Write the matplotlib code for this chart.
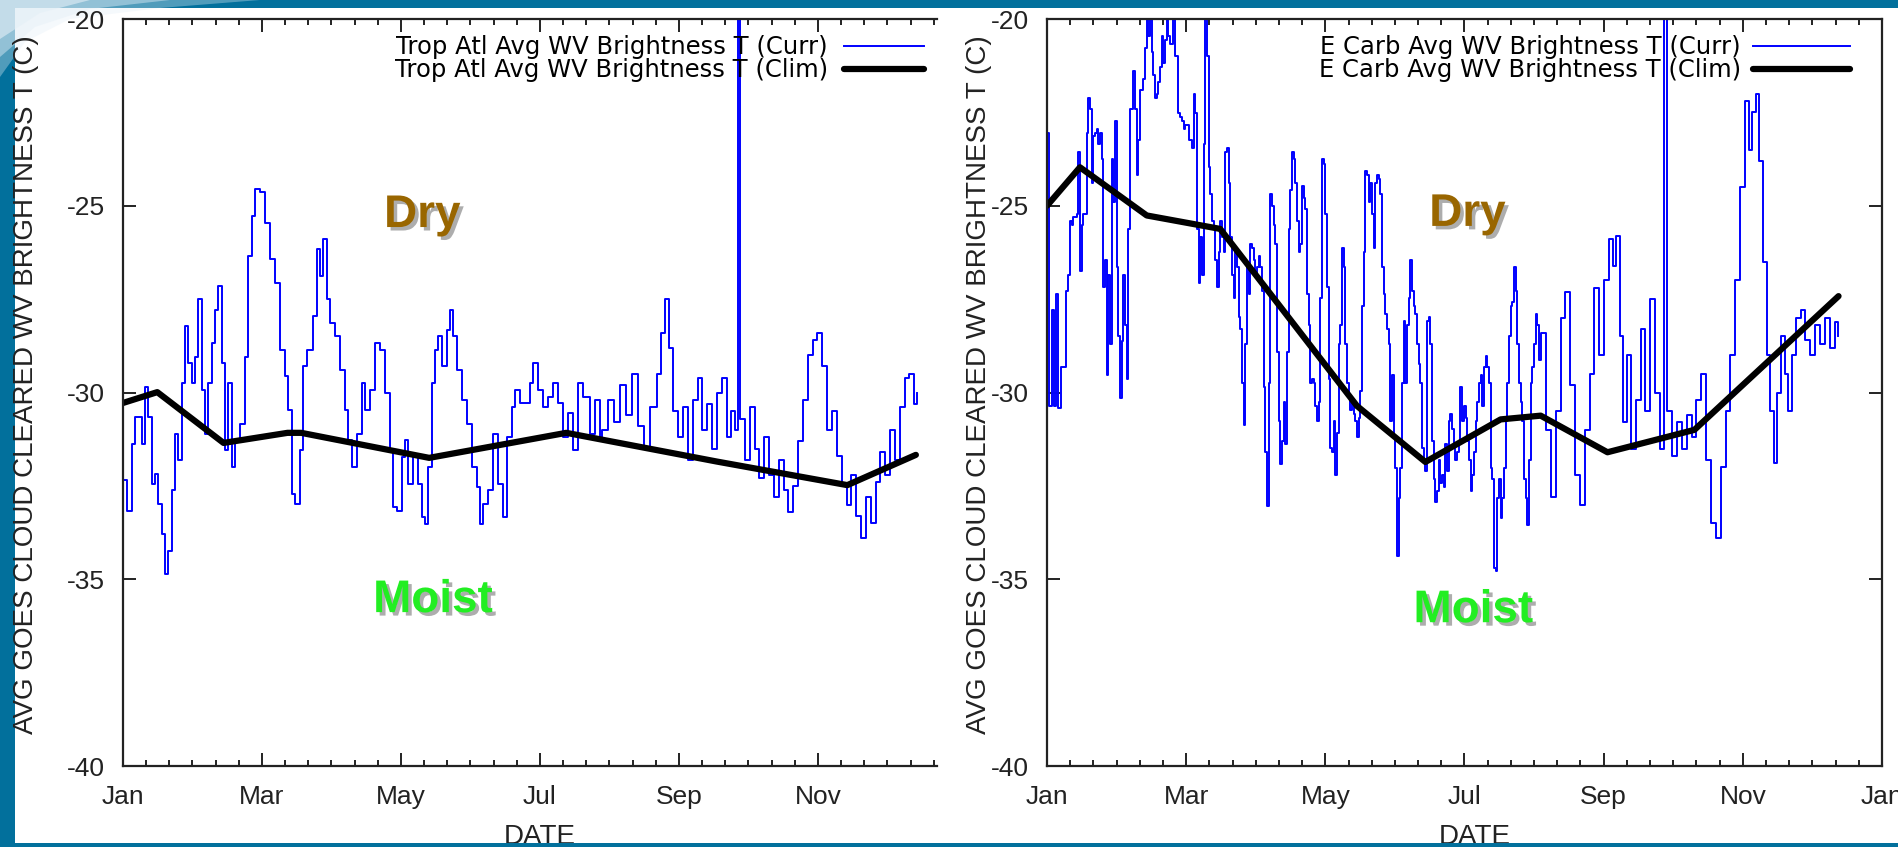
import matplotlib
matplotlib.use('Agg')
import matplotlib.pyplot as plt
import matplotlib.patheffects as pe
from matplotlib.patches import Rectangle, Polygon
from matplotlib.ticker import FixedLocator, NullFormatter

# ---------------- data (day of year, brightness temperature in C) ----------------
month_labels = ['Jan', 'Mar', 'May', 'Jul', 'Sep', 'Nov', 'Jan']
y_ticks = [-40, -35, -30, -25, -20]

left_title_curr = 'Trop Atl Avg WV Brightness T (Curr)'
left_title_clim = 'Trop Atl Avg WV Brightness T (Clim)'
right_title_curr = 'E Carb Avg WV Brightness T (Curr)'
right_title_clim = 'E Carb Avg WV Brightness T (Clim)'

left_days = [0, 1.6, 3.8, 5.3, 8.2, 9.6, 11.1, 12.5, 14.0, 15.5, 16.9, 18.4, 19.8, 21.3, 22.8,
             24.2, 25.7, 27.1, 28.6, 30.0, 31.5, 33.0, 34.4, 35.9, 37.3, 38.8, 40.3, 41.7, 43.2,
             44.6, 46.1, 47.6, 49.0, 51.2, 53.4, 54.9, 56.3, 57.8, 60.0, 62.1, 64.3, 66.5, 68.7,
             70.9, 72.4, 73.8, 75.3, 77.5, 78.9, 80.4, 83.3, 84.8, 86.2, 87.7, 89.1, 90.6, 92.8,
             95.0, 97.2, 98.6, 100.1, 102.3, 104.5, 105.9, 108.1, 110.3, 112.5, 114.7, 116.9,
             118.3, 119.8, 122.0, 123.4, 124.9, 127.1, 129.3, 130.7, 132.2, 133.6, 135.1, 136.5,
             138.0, 139.5, 141.7, 143.1, 144.6, 146.0, 148.2, 150.4, 152.6, 154.8, 156.2, 157.7,
             159.9, 162.1, 164.3, 166.4, 167.9, 170.1, 171.6, 173.7, 175.9, 178.1, 179.6, 181.8,
             184.0, 186.1, 188.3, 190.5, 192.7, 194.9, 197.1, 199.3, 201.5, 204.4, 206.6, 208.8,
             209.6, 212.3, 214.9, 217.5, 220.2, 222.9, 225.5, 228.2, 230.8, 233.5, 235.6, 237.2,
             238.8, 240.9, 243.0, 245.1, 247.2, 249.3, 251.5, 253.6, 255.7, 257.8, 259.9, 262.1,
             264.2, 266.3, 267.9, 269.0, 270.0, 272.1, 274.3, 276.4, 278.5, 280.6, 282.7, 284.9,
             287.0, 289.1, 291.2, 293.3, 295.5, 297.6, 299.7, 301.8, 303.9, 306.1, 308.2, 310.3,
             312.4, 314.5, 316.7, 318.8, 320.9, 323.0, 325.1, 327.3, 329.4, 331.5, 333.6, 335.7,
             337.9, 340.0, 342.1, 344.2, 346.3, 347.4]
left_curr = [-32.35, -33.16, -31.37, -30.65, -31.37, -29.84, -30.65, -32.44, -32.18, -32.98,
             -33.79, -34.87, -34.24, -32.62, -31.10, -31.82, -29.75, -28.23, -29.22, -29.75,
             -29.04, -27.51, -29.93, -31.10, -29.75, -28.68, -27.78, -27.15, -29.22, -31.55,
             -29.75, -32.00, -31.28, -30.83, -29.04, -26.35, -25.27, -24.55, -24.64, -25.45,
             -26.43, -27.06, -28.86, -29.57, -30.47, -32.71, -32.98, -31.55, -29.30, -28.86,
             -27.96, -26.17, -26.88, -25.90, -27.51, -28.14, -28.50, -29.39, -30.47, -31.28,
             -32.00, -31.10, -29.75, -30.47, -29.93, -28.68, -28.86, -30.02, -31.55, -33.07,
             -33.16, -31.73, -31.28, -32.44, -31.73, -32.44, -33.34, -33.52, -32.00, -29.75,
             -28.86, -28.50, -29.30, -28.32, -27.78, -28.50, -29.39, -30.20, -30.83, -32.00,
             -32.53, -33.52, -32.98, -32.62, -31.10, -32.44, -33.34, -31.19, -30.38, -29.93,
             -30.29, -30.29, -29.75, -29.22, -29.93, -30.38, -30.11, -29.75, -30.29, -31.19,
             -30.56, -31.55, -29.75, -30.11, -31.10, -30.20, -31.19,
             -31.0, -30.2, -30.8, -29.8, -30.6, -29.5, -30.9, -31.5, -30.4, -29.5, -28.4, -27.5,
             -28.8, -30.5, -31.2, -30.4, -31.8, -30.2, -29.6, -31.0, -30.3, -31.5, -30.0, -29.6,
             -31.2, -30.5, -31.0, -12.0, -30.7, -31.8, -30.4, -31.5, -32.3, -31.2, -32.2, -32.8,
             -31.8, -32.6, -33.2, -32.5, -31.3, -30.2, -29.0, -28.6, -28.4, -29.3, -31.0, -30.5,
             -31.7, -32.5, -33.0, -32.2, -33.3, -33.9, -32.8, -33.5, -32.4, -31.6, -32.2, -31.0,
             -31.8, -30.4, -29.6, -29.5, -30.3, -30.0]

left_clim_days = [0, 15, 44, 72, 78, 134, 194, 260, 317, 347]
left_clim = [-30.28, -29.99, -31.35, -31.08, -31.08, -31.75, -31.08, -31.85, -32.48, -31.67]

right_days = [0.15, 1.0, 2.05, 3.07, 3.94, 4.96, 5.98, 7.15, 8.32, 9.34, 10.07, 10.8, 11.53,
              12.99, 13.72, 14.45, 15.18, 15.9, 17.36, 18.09, 18.82, 19.55, 20.28, 21.01, 21.74,
              22.47, 23.2, 23.93, 24.66, 25.39, 26.12, 26.85, 27.57, 28.3, 29.03, 29.76, 30.49,
              31.22, 31.95, 32.68, 33.41, 34.14, 34.87, 35.6, 36.33, 37.79, 38.52, 39.25, 39.97,
              40.7, 42.16, 42.89, 43.62, 44.35, 45.08, 45.81, 46.54, 47.27, 48.0, 48.73, 49.46,
              50.19, 50.92, 51.65, 52.37, 53.1, 53.83, 55.29, 56.02, 56.75, 57.48, 58.21, 58.94,
              59.67, 60.4, 61.13, 61.86, 62.59, 63.32, 64.04, 64.77, 65.5, 66.23, 66.96, 67.69,
              68.42, 69.15, 69.88, 70.61, 71.34, 72.07, 72.8, 73.53, 74.26, 74.99, 75.72, 76.44,
              77.17, 77.9, 78.63, 79.36, 80.09, 80.82, 81.55, 82.28, 83.01, 83.74, 84.47, 85.2,
              85.93, 86.66, 87.39, 88.12, 88.84, 89.57, 90.3, 91.03, 91.76, 92.49, 93.22, 93.95,
              94.68, 95.41, 96.14, 96.87, 97.6, 98.33, 99.06, 99.79, 100.51, 101.24, 101.97,
              102.7, 103.43, 104.16, 104.89, 105.62, 106.35, 107.08, 107.81, 108.54, 109.27,
              110.0, 110.73, 111.46, 112.19, 112.91, 113.64, 114.37, 115.1, 115.83, 116.56,
              117.29, 118.02, 118.75, 119.48, 120.21, 120.94, 121.67, 122.4, 123.13, 123.86,
              124.59, 125.31, 126.04, 126.77, 127.5, 128.23, 128.96, 129.69, 130.42, 131.15,
              131.88, 132.61, 133.34, 134.07, 134.8, 135.53, 136.26, 136.98, 137.71, 138.44,
              139.17, 139.9, 140.63, 141.36, 142.09, 142.82, 143.55, 144.28, 145.01, 145.74,
              146.47, 147.2, 147.93, 148.66, 149.39, 150.11, 150.84, 151.57, 152.3, 153.03,
              153.76, 154.49, 155.22, 155.95, 156.68, 157.41, 158.14, 158.87, 159.6, 160.33,
              161.06, 161.78, 162.51, 163.24, 163.97, 164.7, 165.43, 166.16, 166.89, 167.62,
              168.35, 169.08, 169.81, 170.54, 171.27, 172.0, 172.73, 173.45, 174.18, 174.91,
              175.64, 176.37, 177.1, 177.83, 178.56, 179.29, 180.02, 180.75, 181.48, 182.21,
              182.94, 183.67, 184.4, 185.13, 185.86, 186.58, 187.31, 188.04, 188.77, 189.5,
              190.23, 190.96, 191.69, 192.42, 193.15, 193.88, 194.61, 195.34, 196.07, 196.8,
              197.53, 198.25, 198.98, 199.71, 200.44, 201.17, 201.9, 202.63, 203.36, 204.09,
              204.82, 205.55, 206.28, 207.01, 207.74, 208.47, 209.2, 209.92, 210.65, 211.38,
              212.11, 212.84, 213.57, 214.3, 215.03, 215.76,
              218.1, 220.2, 222.4, 224.5, 226.6, 228.7, 230.8, 232.9, 235.1, 237.2, 239.3, 241.4,
              243.5, 245.7, 247.3, 248.9, 250.4, 252.0, 253.6, 255.2, 257.4, 259.5, 261.6, 263.7,
              265.8, 268.0, 269.6, 271.2, 273.3, 275.4, 277.5, 279.7, 281.8, 283.9, 286.0, 288.1,
              290.3, 292.4, 294.5, 296.6, 298.7, 300.8, 303.0, 305.1, 306.7, 308.2, 309.8, 311.4,
              313.0, 314.6, 316.2, 317.7, 319.3, 320.9, 322.5, 324.1, 325.7, 327.3, 329.4, 331.5,
              333.7, 335.8, 337.9, 340.0, 342.2, 344.3, 345.8]
right_curr = [-23.04, -30.36, -27.78, -30.36, -27.37, -30.41, -29.33, -29.33, -27.27, -26.86,
              -25.41, -25.52, -25.31, -25.21, -23.56, -26.75, -25.52, -25.21, -23.04, -22.11,
              -22.42, -24.38, -23.14, -23.04, -22.94, -23.35, -23.04, -23.76, -27.17, -26.44,
              -29.54, -26.86, -28.71, -23.76, -24.90, -22.73, -26.65, -28.50, -30.15, -28.61,
              -26.86, -28.20, -29.64, -25.62, -22.42, -21.39, -22.42, -24.18, -23.25, -21.91,
              -21.60, -20.77, -19.5, -20.46, -19.5, -20.88, -21.50, -22.11, -22.01, -21.70,
              -21.29, -20.46, -21.19, -20.57, -19.5, -20.46, -20.67, -19.5, -20.98, -20.98,
              -22.53, -22.63, -22.73, -22.94, -22.83, -22.83, -23.25, -23.25, -23.45, -22.01,
              -22.53, -25.62, -27.06, -25.83, -26.86, -23.35, -19.5, -20.98, -23.97, -24.69,
              -25.41, -25.62, -26.44, -27.17, -26.24, -25.41, -25.83, -26.24, -23.56, -23.45,
              -24.38, -25.83, -26.86, -27.47, -26.24, -26.65, -27.99, -28.30, -29.74, -30.88,
              -28.71, -26.65, -27.37, -26.03, -26.13, -26.44, -26.86, -26.65, -26.34, -26.65,
              -27.27, -29.85, -31.60, -33.04, -29.74, -24.69, -25.00, -25.52, -26.03, -28.92,
              -30.77, -31.91, -31.29, -30.26, -31.39, -28.92, -25.62, -24.59, -23.56, -23.76,
              -24.38, -25.41, -26.24, -26.03, -24.48, -24.79, -25.10, -27.37, -28.20, -29.74,
              -29.64, -29.74, -30.36, -30.77, -30.26, -27.47, -23.76, -23.87, -25.21, -27.17,
              -29.64, -31.49, -31.60, -30.77, -32.22, -31.08, -28.71, -28.20, -26.13, -26.65,
              -28.71, -29.74, -30.15, -30.46, -30.26, -30.57, -30.77, -31.19, -30.67, -29.95,
              -27.68, -26.24, -24.07, -24.18, -24.90, -24.38, -25.21, -26.13, -24.38, -24.18,
              -24.28, -24.69, -26.65, -27.37, -27.89, -28.30, -28.71, -30.77, -29.54, -31.19,
              -32.01, -34.38, -32.83, -32.01, -29.74, -28.09, -29.74, -28.20, -27.47, -26.44,
              -27.27, -27.68, -27.89, -28.71, -29.23, -29.74, -31.49, -31.80, -32.11, -28.09,
              -27.99, -28.71, -31.29, -32.32, -32.94, -32.63, -31.80, -32.42, -32.22, -32.53,
              -31.39, -32.11, -30.77, -30.57, -30.98, -31.39, -31.80, -31.60, -31.29, -29.85,
              -30.77, -30.36, -30.67, -31.29, -31.80, -32.63, -32.22, -31.60, -30.77, -30.26,
              -29.74, -29.54, -30.36, -29.33, -29.02, -29.33, -29.74, -32.01, -32.32, -34.69,
              -34.79, -32.83, -32.32, -33.35, -32.83, -32.01, -30.77, -29.74, -28.50, -27.68,
              -27.58, -26.65, -27.27, -28.71, -29.74, -30.26, -30.77, -32.32, -32.83, -33.56,
              -31.80, -29.74, -29.33, -28.71, -27.89, -28.20, -29.12, -28.40,
              -31.0, -32.8, -30.5, -28.0, -27.3, -29.8, -32.2, -33.0, -31.0, -29.5, -27.2, -29.0,
              -27.0, -25.9, -26.6, -25.8, -28.5, -30.8, -29.0, -31.5, -30.2, -28.3, -30.5, -27.5,
              -30.0, -31.5, -12.0, -30.5, -31.7, -30.8, -31.5, -30.6, -31.2, -30.2, -29.5, -31.8,
              -33.5, -33.9, -32.0, -30.5, -29.0, -27.0, -24.5, -22.2, -23.5, -22.5, -22.0, -23.8,
              -26.5, -29.0, -30.5, -31.9, -30.0, -28.5, -29.5, -30.5, -29.0, -28.0, -27.8, -28.6,
              -29.0, -28.2, -28.7, -28.0, -28.8, -28.1, -28.5]

right_clim_days = [0, 14.4, 43.6, 75.7, 135.5, 165.4, 198.3, 215.8, 245, 283, 346]
right_clim = [-25.0, -23.97, -25.26, -25.62, -30.36, -31.86, -30.72, -30.62, -31.6, -31.0, -27.42]

# ---------------- figure ----------------
W, H = 1899, 847
fig = plt.figure(figsize=(W / 100, H / 100), dpi=100)
slide_blue = '#02709c'
fig.patch.set_facecolor(slide_blue)
fig.patches.append(Rectangle((15 / W, 4 / H), 1 - 15 / W, 835 / H, transform=fig.transFigure,
                             facecolor='white', edgecolor='none', zorder=-5))
# decorative swoosh at top-left of slide (light glow fading into the blue frame)
for a, pts in [(0.35, [(0, 847), (260, 847), (160, 839), (70, 828), (25, 805), (0, 770)]),
               (0.45, [(0, 847), (170, 847), (90, 838), (35, 820), (0, 790)]),
               (0.6, [(0, 847), (90, 847), (40, 834), (0, 808)])]:
    fig.patches.append(Polygon([(x / W, y / H) for x, y in pts], closed=True,
                               transform=fig.transFigure, facecolor='#e4eff7', alpha=a,
                               edgecolor='none', zorder=-4))
fig.patches.append(Rectangle((0, 0), 1, 4 / H, transform=fig.transFigure,
                             facecolor=slide_blue, edgecolor='none', zorder=10))

plt.rcParams['font.family'] = ['Liberation Sans', 'DejaVu Sans']

axL = fig.add_axes([123 / W, 81 / H, 814 / W, 747 / H])
axR = fig.add_axes([1047 / W, 81 / H, 835 / W, 747 / H])

major_x = [k * 365 / 6 for k in range(7)]
minor_x = [k * 365 / 36 for k in range(37) if k % 6 != 0]


def style(ax, xmax, right_spine):
    ax.set_ylim(-40, -20)
    ax.set_xlim(0, xmax)
    ax.xaxis.set_major_locator(FixedLocator(major_x))
    ax.xaxis.set_minor_locator(FixedLocator(minor_x))
    ax.xaxis.set_minor_formatter(NullFormatter())
    ax.set_xticklabels(month_labels)
    ax.set_yticks(y_ticks)
    ax.set_yticklabels([str(v) for v in y_ticks])
    for s in ax.spines.values():
        s.set_linewidth(1.6)
        s.set_color('#222222')
    ax.spines['right'].set_visible(right_spine)
    ax.tick_params(axis='both', which='both', direction='in', colors='#222222',
                   top=True, right=right_spine, labelsize=19, width=1.4)
    ax.tick_params(axis='both', which='major', length=9.5)
    ax.tick_params(axis='both', which='minor', length=4.5)
    ax.tick_params(axis='x', which='major', pad=14)
    ax.tick_params(axis='y', which='major', pad=13)
    ax.set_ylabel('AVG GOES CLOUD CLEARED WV BRIGHTNESS T (C)', fontsize=20, color='#222222')
    ax.set_xlabel('DATE', fontsize=20, color='#222222')


style(axL, 365 * 814 / 834, False)
style(axR, 365, True)
axL.yaxis.set_label_coords(-0.103, 0.51)
axR.yaxis.set_label_coords(-0.066, 0.51)
axL.xaxis.set_label_coords(0.512, -0.078)
axR.xaxis.set_label_coords(0.512, -0.078)

for ax, d, c, cd, cl, t1, t2 in [
        (axL, left_days, left_curr, left_clim_days, left_clim, left_title_curr, left_title_clim),
        (axR, right_days, right_curr, right_clim_days, right_clim, right_title_curr, right_title_clim)]:
    ax.plot(d, c, color='#0000ff', lw=1.4, drawstyle='steps-post', label=t1)
    ax.plot(cd, cl, color='black', lw=4.5, solid_joinstyle='round',
            solid_capstyle='round', label=t2)

leg_font = {'family': ['DejaVu Sans'], 'size': 17.5}
axL.legend(loc='upper right', bbox_to_anchor=(0.984, 0.978), frameon=False, markerfirst=False,
           prop=leg_font, handlelength=3.3, handletextpad=0.65, labelspacing=-0.05,
           borderpad=0, borderaxespad=0)
axR.legend(loc='upper right', bbox_to_anchor=(0.962, 0.978), frameon=False, markerfirst=False,
           prop=leg_font, handlelength=4.0, handletextpad=0.5, labelspacing=-0.05,
           borderpad=0, borderaxespad=0)

shadow = [pe.SimplePatchShadow(offset=(2.5, -2.5), shadow_rgbFace='#777777', alpha=0.6), pe.Normal()]
bold = dict(fontsize=33, fontweight='bold', ha='center', va='baseline',
            family=['Liberation Sans', 'DejaVu Sans'], path_effects=shadow)
axL.text(131, -25.57, 'Dry', color='#996600', **bold)
axL.text(135.7, -35.88, 'Moist', color='#22ee22', **bold)
axR.text(183.8, -25.54, 'Dry', color='#996600', **bold)
axR.text(186.4, -36.15, 'Moist', color='#22ee22', **bold)

fig.savefig('out.png', dpi=100, facecolor=fig.get_facecolor())
